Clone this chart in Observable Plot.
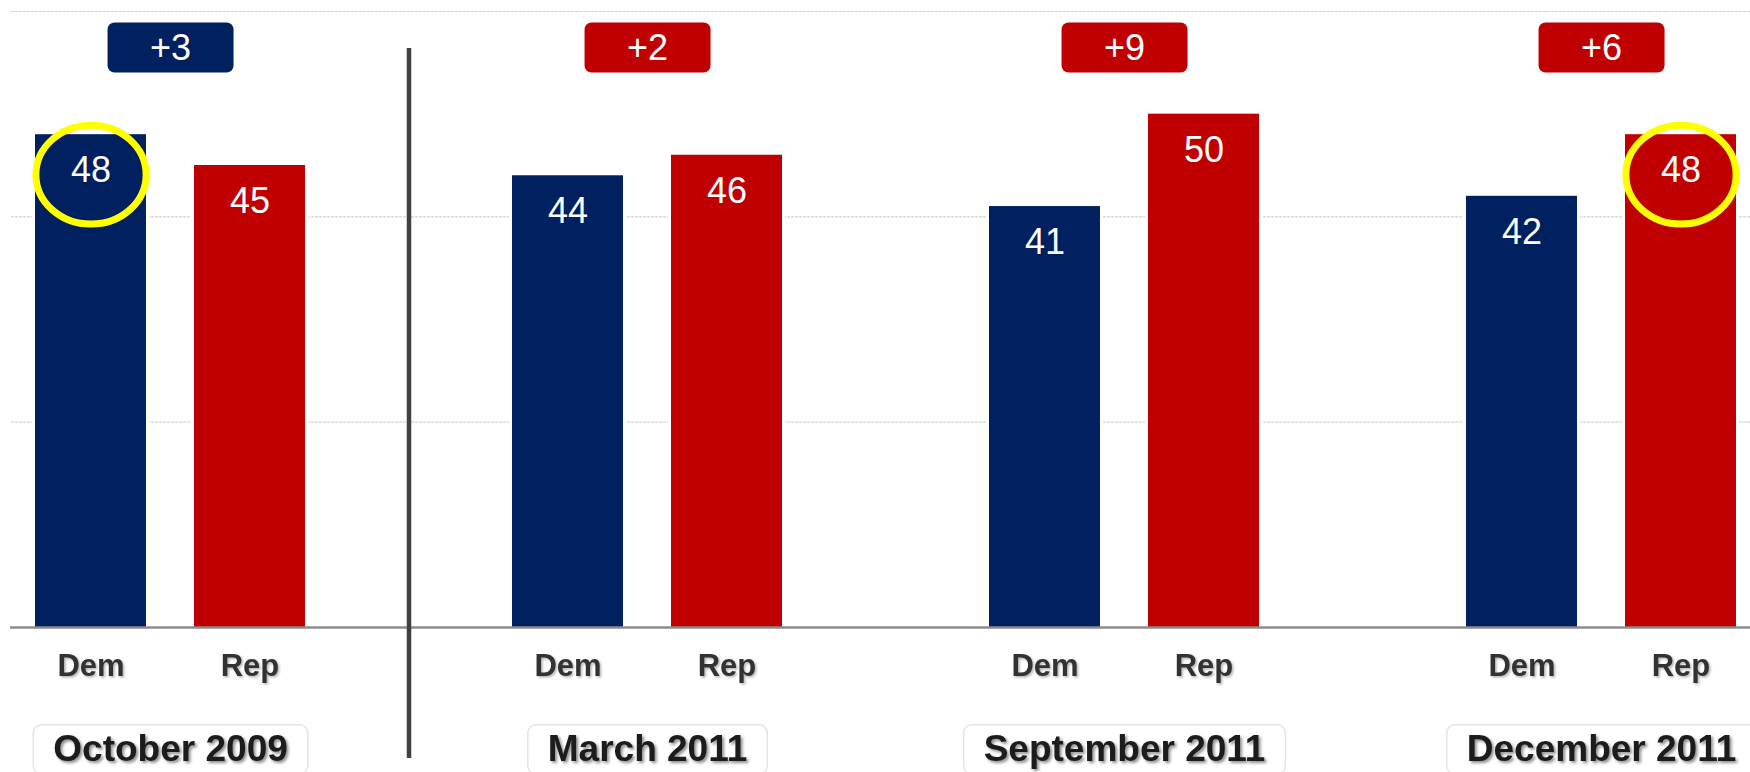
<!DOCTYPE html>
<html><head><meta charset="utf-8">
<script src="https://cdn.jsdelivr.net/npm/d3@7"></script>
<script src="https://cdn.jsdelivr.net/npm/@observablehq/plot@0.6"></script>
<style>
html,body{margin:0;padding:0;background:#fff;overflow:hidden}
#chart svg{display:block}
</style></head><body><div id="chart"></div>
<script>
// ---- data ----
const waves = ["October 2009", "March 2011", "September 2011", "December 2011"];
const parties = ["Dem", "Rep"];
const demValues = [48, 44, 41, 42];
const repValues = [45, 46, 50, 48];
const highlighted = [["October 2009", "Dem"], ["December 2011", "Rep"]];
const dividerAfter = ["October 2009"];
const partyColors = ["#002060", "#C00000"];

// ---- layout ----
const W = 1750, H = 772;
const mL = 11, mR = 0, mT = 11, mB = 145;
const padInner = 0.3, padOuter = 0.115, alignX = 0.637;

const key = (w, p) => w + "|" + p;
const xDomain = [];
waves.forEach((w, i) => {
  if (i > 0) xDomain.push("gap" + i);
  parties.forEach(p => xDomain.push(key(w, p)));
});
const bars = [];
waves.forEach((w, i) => {
  bars.push({wave: w, party: "Dem", value: demValues[i], k: key(w, "Dem")});
  bars.push({wave: w, party: "Rep", value: repValues[i], k: key(w, "Rep")});
});
const leads = waves.map((w, i) => {
  const d = demValues[i] - repValues[i];
  return {wave: w, k: key(w, "Dem"), label: "+" + Math.abs(d), leader: d > 0 ? "Dem" : "Rep"};
});
const hl = bars.filter(b => highlighted.some(([w, p]) => w === b.wave && p === b.party));
const dividers = dividerAfter.map(w => "gap" + (waves.indexOf(w) + 1));
const step = (W - mL - mR) / (xDomain.length - padInner + 2 * padOuter);

const ellipse = {
  draw(context, size) {
    const r = Math.sqrt(size / Math.PI);
    const rx = r * 1.06, ry = r * 0.95, k = 0.5523;
    context.moveTo(rx, 0);
    context.bezierCurveTo(rx, ry * k, rx * k, ry, 0, ry);
    context.bezierCurveTo(-rx * k, ry, -rx, ry * k, -rx, 0);
    context.bezierCurveTo(-rx, -ry * k, -rx * k, -ry, 0, -ry);
    context.bezierCurveTo(rx * k, -ry, rx, -ry * k, rx, 0);
    context.closePath();
  }
};

const plot = Plot.plot({
  width: W, height: H,
  marginLeft: mL, marginRight: mR, marginTop: mT, marginBottom: mB,
  style: {fontFamily: "'Liberation Sans', Arial, sans-serif", background: "#fff", overflow: "visible"},
  x: {domain: xDomain, paddingInner: padInner, paddingOuter: padOuter, align: alignX, axis: null},
  y: {domain: [0, 60], axis: null},
  color: {domain: parties, range: partyColors},
  marks: [
    Plot.ruleY([20, 40, 60], {stroke: "#d2d2d2", strokeWidth: 1.2, strokeDasharray: "3,1"}),
    Plot.barY(bars, {x: "k", y: "value", fill: "#fff", stroke: "#fff", strokeWidth: 6}),
    Plot.barY(bars, {x: "k", y: "value", fill: "party"}),
    Plot.ruleY([0], {stroke: "#8c8c8c", strokeWidth: 2.5, insetLeft: -1}),
    Plot.ruleX(dividers, {stroke: "#404040", strokeWidth: 4.5, insetTop: 37, insetBottom: -131}),
    Plot.text(bars, {x: "k", y: "value", text: d => String(d.value), dy: 36, lineAnchor: "middle", fill: "#fff", fontSize: 36}),
    Plot.dot(hl, {x: "k", y: "value", dy: 40, r: 52, symbol: ellipse, stroke: "#ffff00", strokeWidth: 7, fill: "none"}),
    Plot.text(bars, {x: "k", text: "party", frameAnchor: "bottom", dy: 39, lineAnchor: "middle", fontSize: 31, fontWeight: "bold", fill: "#333", ariaDescription: "party-labels"}),
    Plot.text(leads, {x: "k", text: "label", frameAnchor: "top", dx: step / 2, dy: 37, lineAnchor: "middle", fontSize: 36, fill: "#fff", ariaDescription: "lead-labels"}),
    Plot.text(leads, {x: "k", text: "wave", frameAnchor: "bottom", dx: step / 2, dy: 122, lineAnchor: "middle", fontSize: 37, fontWeight: "bold", fill: "#1a1a1a", ariaDescription: "wave-labels"})
  ]
});

document.getElementById("chart").append(plot);

// ---- decorations: label boxes and shadows ----
const svg = d3.select(plot);
const svgRect = plot.getBoundingClientRect();
const defs = svg.insert("defs", ":first-child");
const f1 = defs.append("filter").attr("id", "shadowA").attr("x", "-10%").attr("y", "-20%").attr("width", "130%").attr("height", "160%");
f1.append("feDropShadow").attr("dx", 2).attr("dy", 2).attr("stdDeviation", 1.4).attr("flood-color", "#000").attr("flood-opacity", 0.45);
const f2 = defs.append("filter").attr("id", "shadowB").attr("x", "-10%").attr("y", "-20%").attr("width", "130%").attr("height", "160%");
f2.append("feDropShadow").attr("dx", 1.5).attr("dy", 1.5).attr("stdDeviation", 1).attr("flood-color", "#000").attr("flood-opacity", 0.3);

const waveG = svg.select('g[aria-description="wave-labels"]');
const partyG = svg.select('g[aria-description="party-labels"]');
const leadG = svg.select('g[aria-description="lead-labels"]');

function boxesBehind(group, make) {
  const node = group.node();
  if (!node) return;
  const holder = d3.select(node.parentNode).insert("g", () => node);
  group.selectAll("text").each(function (_, i) {
    const b = this.getBoundingClientRect();
    make(holder, b.left - svgRect.left + b.width / 2, b.top - svgRect.top + b.height / 2, b.width, i);
  });
}

boxesBehind(leadG, (g, cx, cy, w, i) => {
  g.append("rect").attr("x", cx - 63).attr("y", cy - 25).attr("width", 126).attr("height", 50)
    .attr("rx", 7).attr("fill", partyColors[parties.indexOf(leads[i].leader)]);
});
boxesBehind(waveG, (g, cx, cy, w) => {
  const bw = w + 40;
  g.append("rect").attr("x", cx - bw / 2).attr("y", cy - 24).attr("width", bw).attr("height", 49)
    .attr("rx", 8).attr("fill", "#fff").attr("stroke", "#e4e4e4").attr("stroke-width", 1.5);
});
waveG.attr("filter", "url(#shadowA)");
partyG.attr("filter", "url(#shadowB)");
</script></body></html>
